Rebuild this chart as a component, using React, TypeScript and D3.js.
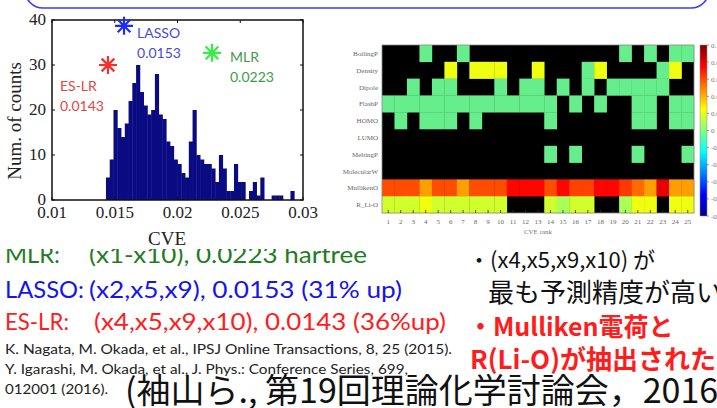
import { useEffect } from "react";
import * as d3 from "d3";

const W = 717;
const H = 408;

// histogram of CVE over all feature subsets
const binStart = 0.0143;
const binWidth = 0.0003;
const binCounts = [
  5, 9, 20, 16, 14, 17, 22, 26, 30, 24,
  21, 19, 20, 28, 19, 18, 13, 12, 9, 8,
  6, 5, 13, 20, 10, 9, 8, 8, 7, 4,
  10, 7, 2, 2, 8, 4, 4, 0, 2, 4,
  1, 5, 0, 0, 1, 1, 1, 0, 0, 2,
];
const xTicks = [0.01, 0.015, 0.02, 0.025, 0.03];
const xTickLabels = ["0.01", "0.015", "0.02", "0.025", "0.03"];
const yTicks = [0, 10, 20, 30, 40];

// selected models (markers as plotted)
const methods = ["ES-LR", "LASSO", "MLR"];
const methodCVE = [0.01446, 0.01574, 0.02275];
const methodCount = [30, 38.7, 32.7];
const methodValue = ["0.0143", "0.0153", "0.0223"];

// feature selection map of the top 25 models
const features = ["BoilingP", "Density", "Dipole", "FlashP", "HOMO", "LUMO", "MeltingP", "MolecularW", "MullikenO", "R_Li-O"];
const ranks = ["1", "2", "3", "4", "5", "6", "7", "8", "9", "10", "11", "12", "13", "14", "15", "16", "17", "18", "19", "20", "21", "22", "23", "24", "25"];
const _ = null;
const boilingP = [_, _, _, 0, _, _, 0, _, _, _, _, _, _, _, _, _, _, _, _, 0, _, 0, _, 0, 0];
const density = [_, _, _, _, _, 0.022, _, 0.022, 0.022, 0.022, _, _, 0.022, _, _, _, 0, 0.022, _, _, _, _, 0, 0.022, _];
const dipole = [_, _, 0, _, 0, 0, _, _, _, 0, _, 0, 0, _, 0, _, 0, _, 0, 0, 0, 0, 0, _, _];
const flashP = [0, 0, 0, 0, 0, 0, 0, 0, 0, 0, 0, 0, 0, 0, _, 0, _, 0, _, _, 0, 0, _, 0, 0];
const homo = [_, 0, _, 0, 0, 0, _, 0, _, _, _, _, _, 0, _, _, _, _, _, _, 0, 0, _, 0, 0];
const lumo = [_, _, _, _, _, _, _, _, _, _, _, _, _, _, _, _, _, _, _, _, _, _, _, _, _];
const meltingP = [_, _, _, _, _, _, _, _, _, _, _, _, _, 0, _, 0, _, _, _, _, 0, _, _, _, 0];
const molecularW = [_, _, _, _, _, _, _, _, _, _, _, _, _, _, _, _, _, _, _, _, _, _, _, _, _];
const mullikenO = [0.06, 0.06, 0.06, 0.044, 0.06, 0.06, 0.044, 0.06, 0.06, 0.06, 0.074, 0.074, 0.074, 0.06, 0.074, 0.062, 0.062, 0.074, 0.074, 0.064, 0.054, 0.044, 0.08, 0.044, 0.044];
const rLiO = [0.016, 0.016, 0.016, 0.022, 0.016, 0.016, 0.016, 0.016, 0.016, 0.016, _, _, _, 0.016, 0.008, 0.016, 0.016, _, _, 0.008, 0.022, 0.022, _, 0.022, 0.022];
const coefRows = [boilingP, density, dipole, flashP, homo, lumo, meltingP, molecularW, mullikenO, rLiO];
const cbarTicks = [0.1, 0.08, 0.06, 0.04, 0.02, 0, -0.02, -0.04, -0.06, -0.08, -0.1];

const jet = d3
  .scaleLinear<string>()
  .domain([0, 0.125, 0.375, 0.625, 0.875, 1])
  .range(["#00008f", "#0000ff", "#00ffff", "#ffff00", "#ff0000", "#800000"])
  .clamp(true);
const coefColor = (v: number) => jet((v + 0.1) / 0.2);

const Asterisk = ({ cx, cy, r, color }: { cx: number; cy: number; r: number; color: string }) => {
  const d = [0, 45, 90, 135]
    .map((a) => {
      const t = (a * Math.PI) / 180;
      return `M${cx - r * Math.cos(t)},${cy - r * Math.sin(t)}L${cx + r * Math.cos(t)},${cy + r * Math.sin(t)}`;
    })
    .join("");
  return <path d={d} stroke={color} strokeWidth={2.2} />;
};

const Histogram = () => {
  const x = d3.scaleLinear().domain([0.01, 0.03]).range([52, 303]);
  const y = d3.scaleLinear().domain([0, 40]).range([200, 20]);
  const serif = "'Liberation Serif', 'DejaVu Serif', serif";
  const markColor = ["#ff2a2a", "#1f2aff", "#33ee44"];
  const textColor = ["#e54545", "#4a4ad6", "#3f9a4a"];
  const labelOff = [
    [-48, 26],
    [13, 12],
    [18, 9],
  ];
  return (
    <g>
      {binCounts.map((c, i) => {
        const x0 = x(binStart + i * binWidth);
        const x1 = x(binStart + (i + 1) * binWidth);
        return c > 0 ? (
          <rect key={i} x={x0} y={y(c)} width={x1 - x0 + 0.4} height={y(0) - y(c)} fill="#0a0a82" />
        ) : null;
      })}
      <rect x={52} y={20} width={251} height={180} fill="none" stroke="#111" strokeWidth={1.5} />
      {yTicks.map((t) => (
        <g key={t}>
          <line x1={52} x2={55} y1={y(t)} y2={y(t)} stroke="#111" />
          <line x1={300} x2={303} y1={y(t)} y2={y(t)} stroke="#111" />
          <text x={46} y={y(t) + 5} textAnchor="end" fontFamily={serif} fontSize={17} fill="#222">
            {t}
          </text>
        </g>
      ))}
      {xTicks.map((t, i) => (
        <g key={t}>
          <line x1={x(t)} x2={x(t)} y1={200} y2={197} stroke="#111" />
          <line x1={x(t)} x2={x(t)} y1={20} y2={23} stroke="#111" />
          <text x={x(t)} y={218} textAnchor="middle" fontFamily={serif} fontSize={17} fill="#222">
            {xTickLabels[i]}
          </text>
        </g>
      ))}
      <text x={167} y={245} textAnchor="middle" fontFamily={serif} fontSize={19} fill="#222">
        CVE
      </text>
      <text transform="translate(21,121) rotate(-90)" textAnchor="middle" fontFamily={serif} fontSize={19} fill="#222">
        Num. of counts
      </text>
      {methods.map((m, i) => {
        const cx = x(methodCVE[i]);
        const cy = y(methodCount[i]);
        return (
          <g key={m}>
            <Asterisk cx={cx} cy={cy} r={9} color={markColor[i]} />
            <text x={cx + labelOff[i][0]} y={cy + labelOff[i][1]} fontFamily="Lato, sans-serif" fontSize={14} fill={textColor[i]}>
              {m}
            </text>
            <text x={cx + labelOff[i][0]} y={cy + labelOff[i][1] + 20} fontFamily="Lato, sans-serif" fontSize={14} fill={textColor[i]}>
              {methodValue[i]}
            </text>
          </g>
        );
      })}
    </g>
  );
};

const Heatmap = () => {
  const x = d3.scaleBand().domain(ranks).range([382, 694]);
  const y = d3.scaleBand().domain(features).range([45, 213]);
  const cb = d3.scaleLinear().domain([-0.1, 0.1]).range([216, 45]);
  const serif = "'Liberation Serif', serif";
  return (
    <g>
      <defs>
        <linearGradient id="jet" x1="0" y1="1" x2="0" y2="0">
          {d3.range(0, 1.0001, 0.125).map((t) => (
            <stop key={t} offset={t} stopColor={jet(t)} />
          ))}
        </linearGradient>
      </defs>
      <rect x={382} y={45} width={312} height={168} fill="#000" />
      {coefRows.map((row, r) =>
        row.map((v, c) =>
          v === null ? null : (
            <rect
              key={`${r}-${c}`}
              x={x(ranks[c])!}
              y={y(features[r])!}
              width={x.bandwidth() + 0.3}
              height={y.bandwidth() + 0.3}
              fill={v === 0 ? "#66ee8c" : coefColor(v)}
            />
          )
        )
      )}
      <rect x={382} y={45} width={312} height={168} fill="none" stroke="#888" strokeWidth={0.8} />
      {ranks.map((k) => (
        <g key={k}>
          <line x1={x(k)! + x.bandwidth() / 2} x2={x(k)! + x.bandwidth() / 2} y1={213} y2={210} stroke="#333" strokeWidth={0.8} />
          <text x={x(k)! + x.bandwidth() / 2} y={224} textAnchor="middle" fontFamily={serif} fontSize={7} fill="#666">
            {k}
          </text>
        </g>
      ))}
      {features.map((f) => (
        <text key={f} x={378} y={y(f)! + y.bandwidth() / 2 + 2.5} textAnchor="end" fontFamily={serif} fontSize={7} fill="#666">
          {f}
        </text>
      ))}
      <text x={538} y={234} textAnchor="middle" fontFamily={serif} fontSize={7} fill="#777">
        CVE rank
      </text>
      <rect x={700} y={45} width={7} height={171} fill="url(#jet)" stroke="#888" strokeWidth={0.5} />
      {cbarTicks.map((t) => (
        <g key={t}>
          <line x1={707} x2={709} y1={cb(t)} y2={cb(t)} stroke="#555" strokeWidth={0.6} />
          <text x={711} y={cb(t) + 2.5} fontFamily={serif} fontSize={7} fill="#777">
            {t}
          </text>
        </g>
      ))}
    </g>
  );
};

export default function App() {
  useEffect(() => {
    document.body.style.margin = "0";
  }, []);
  const sans = "Lato, 'Noto Sans', sans-serif";
  const jp = "'Noto Sans CJK JP', sans-serif";
  const green = "#1f7d1f";
  const blue = "#1414ee";
  const red = "#ff1c1c";
  return (
    <svg width={W} height={H} style={{ display: "block", background: "#fff" }}>
      <rect x={0} y={0} width={W} height={H} fill="#fff" />
      {/* results text, partly hidden under the figures */}
      <text x={5} y={263} fontFamily={sans} fontSize={24} fill={green} textLength={55} lengthAdjust="spacingAndGlyphs">
        MLR:
      </text>
      <text x={89} y={263} fontFamily={sans} fontSize={24} fill={green} textLength={278} lengthAdjust="spacingAndGlyphs">
        (x1-x10), 0.0223 hartree
      </text>
      <rect x={0} y={0} width={460} height={249} fill="#fff" />
      <rect x={25} y={-40} width={684} height={48} rx={18} fill="none" stroke="#3b3bef" strokeWidth={1.6} />
      <Histogram />
      <Heatmap />
      <text x={5} y={298} fontFamily={sans} fontSize={24} fill={blue} textLength={79} lengthAdjust="spacingAndGlyphs">
        LASSO:
      </text>
      <text x={89} y={298} fontFamily={sans} fontSize={24} fill={blue} textLength={313} lengthAdjust="spacingAndGlyphs">
        (x2,x5,x9), 0.0153 (31% up)
      </text>
      <text x={5} y={330} fontFamily={sans} fontSize={24} fill={red} textLength={64} lengthAdjust="spacingAndGlyphs">
        ES-LR:
      </text>
      <text x={94} y={330} fontFamily={sans} fontSize={24} fill={red} textLength={352} lengthAdjust="spacingAndGlyphs">
        (x4,x5,x9,x10), 0.0143 (36%up)
      </text>
      <text x={5} y={354} fontFamily={sans} fontSize={14} fill="#222" textLength={447} lengthAdjust="spacingAndGlyphs">
        K. Nagata, M. Okada, et al., IPSJ Online Transactions, 8, 25 (2015).
      </text>
      <text x={5} y={374} fontFamily={sans} fontSize={14} fill="#222" textLength={403} lengthAdjust="spacingAndGlyphs">
        Y. Igarashi, M. Okada, et al., J. Phys.: Conference Series, 699,
      </text>
      <text x={5} y={394} fontFamily={sans} fontSize={14} fill="#222" textLength={103} lengthAdjust="spacingAndGlyphs">
        012001 (2016).
      </text>
      <text x={125} y={403} fontFamily={jp} fontSize={34} fill="#111">
        (袖山ら., 第19回理論化学討論会，2016)
      </text>
      <text x={468} y={268} fontFamily={jp} fontSize={22} fill="#111">
        ・(x4,x5,x9,x10) が
      </text>
      <text x={488} y={302} fontFamily={jp} fontSize={26} fill="#111">
        最も予測精度が高い
      </text>
      <text x={468} y={336} fontFamily={jp} fontSize={25} fontWeight="bold" fill={red}>
        ・Mulliken電荷と
      </text>
      <text x={470} y={369} fontFamily={jp} fontSize={26} fontWeight="bold" fill={red}>
        R(Li-O)が抽出された
      </text>
    </svg>
  );
}
